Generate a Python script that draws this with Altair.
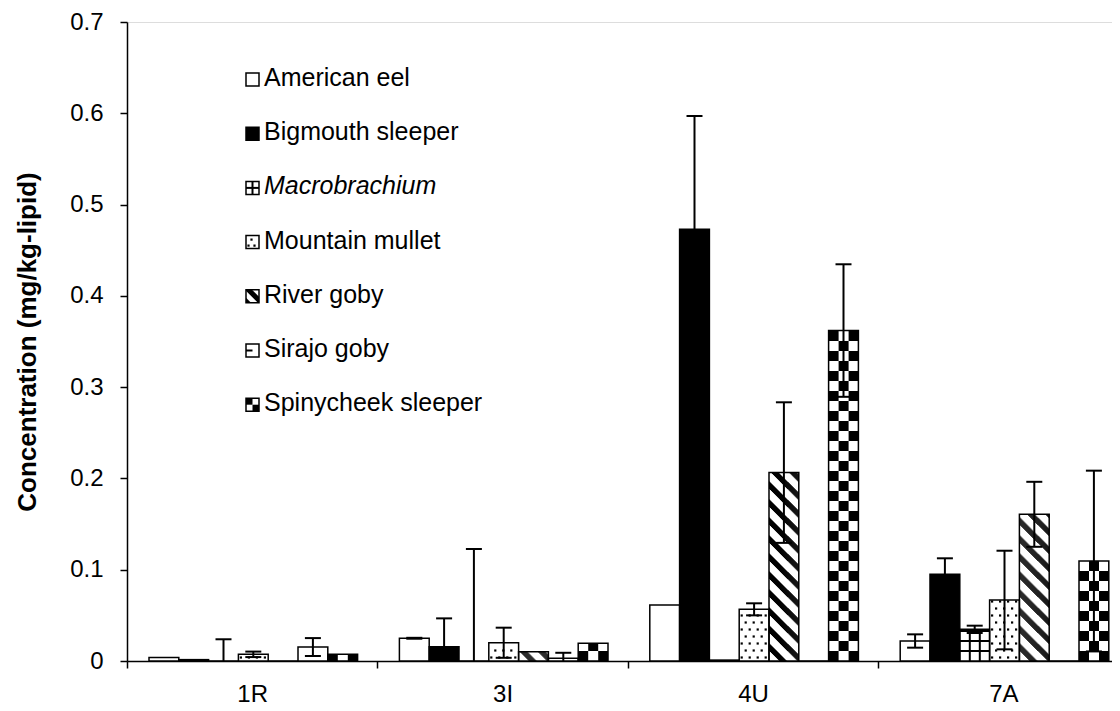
import math
import altair as alt
import pandas as pd

# ---------------- data ----------------
sites = ["1R", "3I", "4U", "7A"]
species = ["American eel", "Bigmouth sleeper", "Macrobrachium", "Mountain mullet",
           "River goby", "Sirajo goby", "Spinycheek sleeper"]
species_pattern = ["open", "solid", "grid", "dots", "stripes", "dash", "checker"]

# mean concentration (mg/kg-lipid), one value per site (1R, 3I, 4U, 7A)
american_eel = [0.0037, 0.0249, 0.0613, 0.0219]
bigmouth_sleeper = [0.0015, 0.0157, 0.473, 0.095]
macrobrachium = [0.0, 0.0, 0.001, 0.0347]
mountain_mullet = [0.0073, 0.020, 0.0566, 0.0668]
river_goby = [0.0, 0.0102, 0.2064, 0.1607]
sirajo_goby = [0.0153, 0.003, 0.0, 0.0]
spinycheek_sleeper = [0.0073, 0.0194, 0.362, 0.1095]

# error bar half-lengths
american_eel_err = [0.0, 0.0005, 0.0, 0.0073]
bigmouth_sleeper_err = [0.0, 0.031, 0.124, 0.0175]
macrobrachium_err = [0.0238, 0.1227, 0.0, 0.004]
mountain_mullet_err = [0.003, 0.0165, 0.0066, 0.054]
river_goby_err = [0.0, 0.0, 0.077, 0.0356]
sirajo_goby_err = [0.0098, 0.006, 0.0, 0.0]
spinycheek_sleeper_err = [0.0, 0.0, 0.0726, 0.099]

y_ticks = [0, 0.1, 0.2, 0.3, 0.4, 0.5, 0.6, 0.7]
y_title = "Concentration (mg/kg-lipid)"

series = [american_eel, bigmouth_sleeper, macrobrachium, mountain_mullet,
          river_goby, sirajo_goby, spinycheek_sleeper]
errors = [american_eel_err, bigmouth_sleeper_err, macrobrachium_err, mountain_mullet_err,
          river_goby_err, sirajo_goby_err, spinycheek_sleeper_err]

# ---------------- layout ----------------
PLOT_LEFT, PLOT_TOP = 127, 22
PLOT_W, PLOT_H = 985, 639
GROUP_PX = 250.4
YMAX = 0.7
XMAX = PLOT_W / GROUP_PX
SX = GROUP_PX            # px per x unit
SY = PLOT_H / YMAX       # px per concentration unit
BASE_Y = PLOT_TOP + PLOT_H
BAR_W = 29.8 / SX
BAR_OFF = 22.0 / SX
CAP = 8.0 / SX
FONT = "Liberation Sans"
FS_TICK = 24
FS_LEG = 25
FS_TITLE = 26

rect_rows, outline_rows, checker_rows = [], [], []
stripe_rows, rule_rows, dot_rows = [], [], []
err_rows, cap_rows = [], []


def checker(x0, x1, y0, y1, cell, parity=0):
    wpx, hpx = (x1 - x0) * SX, (y1 - y0) * SY
    nc, nr = int(math.ceil(wpx / cell - 1e-6)), int(math.ceil(hpx / cell - 1e-6))
    for r in range(nr):
        for c in range(nc):
            if (r + c) % 2 == parity:
                checker_rows.append(dict(
                    x=x0 + c * cell / SX, x2=min(x0 + (c + 1) * cell / SX, x1),
                    y=y0 + r * cell / SY, y2=min(y0 + (r + 1) * cell / SY, y1)))


def stripes(x0, x1, y0, y1, period, thick, phase=0.0):
    # diagonal bands descending to the right, drawn column by column
    wpx, hpx = (x1 - x0) * SX, (y1 - y0) * SY
    ncol = max(1, int(round(wpx)))
    cw = wpx / ncol
    c = phase
    while c - thick <= hpx + wpx:
        for k in range(ncol):
            dx = (k + 0.5) * cw
            up = min(max(c - dx, 0), hpx)
            lo = min(max(c - thick - dx, 0), hpx)
            if up - lo > 0.05:
                xv = x0 + dx / SX
                stripe_rows.append(dict(x=xv, y=y0 + lo / SY, y2=y0 + up / SY))
        c += period


def grid(x0, x1, y0, y1, period):
    wpx, hpx = (x1 - x0) * SX, (y1 - y0) * SY
    k = 1
    while k * period < wpx - 1:
        xv = x0 + k * period / SX
        rule_rows.append(dict(x=xv, x2=xv, y=y0, y2=y1))
        k += 1
    k = 1
    while k * period < hpx - 1:
        yv = y0 + k * period / SY
        rule_rows.append(dict(x=x0, x2=x1, y=yv, y2=yv))
        k += 1


def dots(x0, x1, y0, y1, ddx, ddy, half=1.1):
    wpx, hpx = (x1 - x0) * SX, (y1 - y0) * SY
    yy, r = ddy / 2, 0
    while yy < hpx - 1:
        xx = 2.5 + (ddx / 2 if r % 2 else 0)
        while xx < wpx - 1.5:
            dot_rows.append(dict(x=x0 + (xx - half) / SX, x2=x0 + (xx + half) / SX,
                                 y=y0 + (yy - half) / SY, y2=y0 + (yy + half) / SY))
            xx += ddx
        yy += ddy
        r += 1


def add_box(pat, x0, x1, y0, y1, small=False):
    rect_rows.append(dict(x=x0, x2=x1, y=y0, y2=y1, fill="black" if pat == "solid" else "white"))
    if y1 > y0:
        if pat == "checker":
            checker(x0, x1, y0, y1, 6.5 if small else 10.0, parity=1 if small else 0)
        elif pat == "stripes":
            if small:
                stripes(x0, x1, y0, y1, 14.0, 7.0, phase=5.0)
            else:
                stripes(x0, x1, y0, y1, 18.0, 7.5, phase=0.0)
        elif pat == "grid":
            grid(x0, x1, y0, y1, 6.5 if small else 10.0)
        elif pat == "dots":
            if small:
                dots(x0, x1, y0, y1, 6.0, 6.0, half=1.1)
            else:
                dots(x0, x1, y0, y1, 8.0, 7.0)
        elif pat == "dash" and small:
            ym = (y0 + y1) / 2
            rule_rows.append(dict(x=x0, x2=(x0 + x1) / 2, y=ym, y2=ym))
    outline_rows.append(dict(x=x0, x2=x1, y=y0, y2=y1))


for si, name in enumerate(species):
    pat = species_pattern[si]
    for g in range(len(sites)):
        v, e = series[si][g], errors[si][g]
        x0 = g + BAR_OFF + si * BAR_W
        x1 = x0 + BAR_W
        add_box(pat, x0, x1, 0.0, v)
        if e > 0:
            xc = (x0 + x1) / 2
            lo = max(v - e, 0.0)
            err_rows.append(dict(x=xc, y=lo, y2=v + e))
            cap_rows.append(dict(x=xc - CAP, x2=xc + CAP, y=v + e))
            if v - e > 0:
                cap_rows.append(dict(x=xc - CAP, x2=xc + CAP, y=v - e))

# legend (inside plot)
LEG_SYM_X = (246 - PLOT_LEFT) / SX
LEG_SYM = 13.0
LEG_TXT_X = (264 - PLOT_LEFT) / SX
LEG_TOP_PX = 78.0
LEG_STEP_PX = 54.2
legend_rows = []
for si, name in enumerate(species):
    yc = (BASE_Y - (LEG_TOP_PX + si * LEG_STEP_PX)) / SY
    ys = yc - 1.5 / SY
    add_box(species_pattern[si], LEG_SYM_X, LEG_SYM_X + LEG_SYM / SX,
            ys - LEG_SYM / 2 / SY, ys + LEG_SYM / 2 / SY, small=True)
    legend_rows.append(dict(x=LEG_TXT_X, y=yc, label=name,
                            italic=(name == "Macrobrachium")))

# ---------------- encodings ----------------
xscale = alt.Scale(domain=[0, XMAX], nice=False, zero=False)
yscale = alt.Scale(domain=[0, YMAX], nice=False, zero=True)

label_expr = " : ".join(
    f"datum.value == {i + 0.5} ? '{s}'" for i, s in enumerate(sites)) + " : ''"
xaxis = alt.Axis(values=[0, 0.5, 1, 1.5, 2, 2.5, 3, 3.5], labelExpr=label_expr,
                 tickSize=7, tickWidth=1.5, tickColor="black",
                 tickOpacity={"condition": {"test": "datum.value % 1 != 0", "value": 0}, "value": 1},
                 domainColor="black", domainWidth=1.5, labelFont=FONT, labelFontSize=FS_TICK,
                 labelColor="black", labelPadding=14, labelOverlap=False, labelFlush=False,
                 grid=False, title=None)
yaxis = alt.Axis(values=y_ticks, labelExpr="datum.value == 0 ? '0' : format(datum.value, '.1f')",
                 tickSize=7, tickWidth=1.5, tickColor="black", domainColor="black",
                 domainWidth=1.5, labelFont=FONT, labelFontSize=FS_TICK, labelColor="black",
                 labelPadding=17, labelOverlap=False, labelFlush=False, grid=False,
                 title=y_title, titleFont=FONT, titleFontSize=FS_TITLE, titleFontWeight="bold",
                 titleColor="black", titlePadding=29)


def X(f="x"):
    return alt.X(f"{f}:Q", scale=xscale, axis=xaxis)


def Y(f="y"):
    return alt.Y(f"{f}:Q", scale=yscale, axis=yaxis)


base_rects = alt.Chart(pd.DataFrame(rect_rows)).mark_rect(strokeWidth=0).encode(
    x=X(), x2="x2:Q", y=Y(), y2="y2:Q", fill=alt.Fill("fill:N", scale=None))

checks = alt.Chart(pd.DataFrame(checker_rows)).mark_rect(color="black", strokeWidth=0).encode(
    x=X(), x2="x2:Q", y=Y(), y2="y2:Q")

stripe_cols = alt.Chart(pd.DataFrame(stripe_rows)).mark_rule(
    color="black", strokeWidth=1.15, strokeCap="butt").encode(
    x=X(), y=Y(), y2="y2:Q")

grid_rules = alt.Chart(pd.DataFrame(rule_rows)).mark_rule(color="black", strokeWidth=2).encode(
    x=X(), x2="x2:Q", y=Y(), y2="y2:Q")

dot_marks = alt.Chart(pd.DataFrame(dot_rows)).mark_rect(color="black", strokeWidth=0).encode(
    x=X(), x2="x2:Q", y=Y(), y2="y2:Q")

outlines = alt.Chart(pd.DataFrame(outline_rows)).mark_rect(
    fillOpacity=0, stroke="black", strokeWidth=1.5).encode(
    x=X(), x2="x2:Q", y=Y(), y2="y2:Q")

err_lines = alt.Chart(pd.DataFrame(err_rows)).mark_rule(color="black", strokeWidth=2).encode(
    x=X(), y=Y(), y2="y2:Q")

err_caps = alt.Chart(pd.DataFrame(cap_rows)).mark_rule(color="black", strokeWidth=2).encode(
    x=X(), x2="x2:Q", y=Y())

leg_df = pd.DataFrame(legend_rows)
leg_normal = alt.Chart(leg_df[~leg_df["italic"]]).mark_text(
    align="left", baseline="middle", font=FONT, fontSize=FS_LEG, color="black").encode(
    x=X(), y=Y(), text="label:N")
leg_italic = alt.Chart(leg_df[leg_df["italic"]]).mark_text(
    align="left", baseline="middle", font=FONT, fontSize=FS_LEG, fontStyle="italic",
    color="black").encode(x=X(), y=Y(), text="label:N")

chart = alt.layer(
    base_rects, checks, stripe_cols, grid_rules, dot_marks, outlines,
    err_lines, err_caps, leg_normal, leg_italic
).properties(
    width=PLOT_W, height=PLOT_H,
    autosize=alt.AutoSizeParams(type="none"),
    padding={"left": PLOT_LEFT - 8, "top": PLOT_TOP - 8, "right": 0, "bottom": 48},
).configure_view(stroke=None).configure(background="white")

chart.save("out.html", embed_options={"renderer": "svg", "actions": False})
